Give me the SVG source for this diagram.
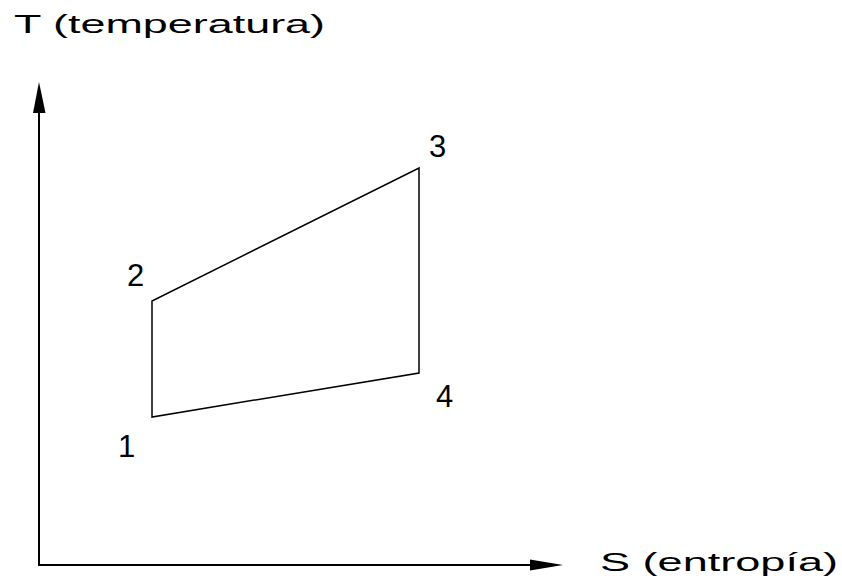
<svg xmlns="http://www.w3.org/2000/svg" width="842" height="583" viewBox="0 0 842 583">
<style>
.lbl{font-family:"Liberation Sans",Arial,sans-serif;fill:#000;font-weight:normal}
.ax{stroke:#000;stroke-width:2;fill:none}
.cyc{stroke:#000;stroke-width:1.5;fill:none;stroke-linejoin:miter}
</style>
<rect width="842" height="583" fill="#fff"/>
<g id="connectors">
<line class="ax" x1="39" y1="565" x2="39" y2="110"/>
<line class="ax" x1="38" y1="565" x2="535" y2="565"/>
<polygon points="39,82 33,113 45.5,113" fill="#000"/>
<polygon points="563,565 530,559.5 530,570.5" fill="#000"/>
<polygon class="cyc" points="152,417 152,301 419,168 419,373"/>
</g>
<g id="axis-T"><text class="lbl" x="14" y="33" font-size="26" textLength="311" lengthAdjust="spacingAndGlyphs">T (temperatura)</text></g>
<g id="axis-S"><text class="lbl" x="600" y="571" font-size="25" textLength="238" lengthAdjust="spacingAndGlyphs">S (entropía)</text></g>
<g id="p1"><text class="lbl" x="118" y="457" font-size="31">1</text></g>
<g id="p2"><text class="lbl" x="127" y="286" font-size="31">2</text></g>
<g id="p3"><text class="lbl" x="429" y="157" font-size="31">3</text></g>
<g id="p4"><text class="lbl" x="436" y="407" font-size="31">4</text></g>
</svg>
